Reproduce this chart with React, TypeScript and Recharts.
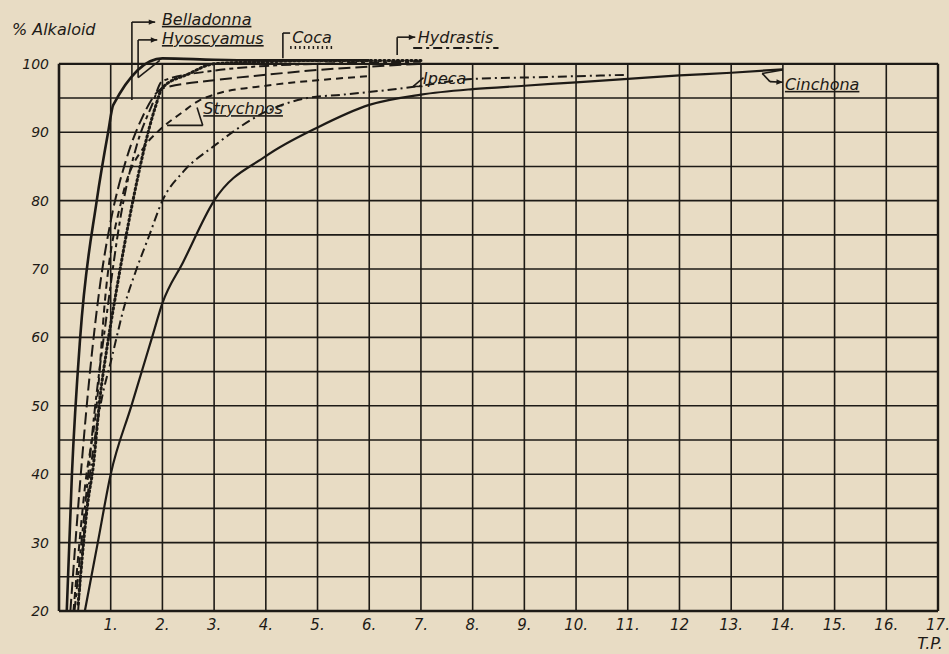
import { LineChart, Line, XAxis, YAxis, ReferenceLine, ReferenceDot } from "recharts";

// axis ticks and grid
const X_TICKS = [1, 2, 3, 4, 5, 6, 7, 8, 9, 10, 11, 12, 13, 14, 15, 16, 17];
const X_TICK_LABELS = ["1.", "2.", "3.", "4.", "5.", "6.", "7.", "8.", "9.", "10.", "11.", "12", "13.", "14.", "15.", "16.", "17."];
const Y_TICKS = [20, 30, 40, 50, 60, 70, 80, 90, 100];
const GRID_Y = [25, 30, 35, 40, 45, 50, 55, 60, 65, 70, 75, 80, 85, 90, 95];
const GRID_X = [1, 2, 3, 4, 5, 6, 7, 8, 9, 10, 11, 12, 13, 14, 15, 16];

// % alkaloid extracted vs T.P.
const BELLADONNA: [number, number][] = [
  [0.15, 20], [0.25, 40], [0.41, 60], [0.73, 80], [0.95, 90], [1.05, 94], [2, 100.8],
  [3, 100.6], [4, 100.5], [5, 100.5], [6, 100.5],
];
const HYOSCYAMUS: [number, number][] = [
  [0.22, 20], [0.4, 38], [0.6, 55], [0.8, 68], [1.0, 77], [1.3, 86], [1.6, 92], [2, 96.4],
  [3, 97.6], [4, 98.4], [5, 99.1], [6, 99.6], [7, 100],
];
const COCA: [number, number][] = [
  [0.37, 21], [0.56, 36], [0.66, 41], [0.79, 51], [0.93, 58.6], [1.08, 65.5], [1.43, 80],
  [1.86, 93.6], [2, 96.5], [2.5, 98.5], [3, 100], [4, 100.3], [5, 100.5], [6, 100.5], [7, 100.5],
];
const HYDRASTIS: [number, number][] = [
  [0.3, 20], [0.5, 35], [0.7, 50], [0.9, 62], [1.2, 78], [1.5, 88], [1.8, 94], [2, 97.5],
  [3, 99], [4, 99.7], [5, 100], [6, 100.2], [7, 100.3],
];
const STRYCHNOS: [number, number][] = [
  [0.28, 20], [0.5, 38], [0.74, 51], [0.89, 65.5], [1.22, 80.4], [1.66, 88], [1.9, 90],
  [2.4, 93], [2.7, 94.6], [3, 95.5], [4, 96.8], [5, 97.6], [6, 98.2],
];
const IPECA: [number, number][] = [
  [0.37, 20], [0.47, 30], [0.6, 40], [0.8, 50], [1.02, 57], [1.28, 65], [1.5, 70], [1.75, 75],
  [2, 80], [2.4, 84.2], [3, 88], [4, 93], [4.8, 95], [5.5, 95.5], [6.6, 96.4], [7, 96.8],
  [8, 97.8], [9, 98], [10, 98.2], [11, 98.4],
];
const CINCHONA: [number, number][] = [
  [0.5, 20], [0.75, 30], [1, 40], [1.4, 50], [1.8, 60], [2, 65], [2.4, 71], [3, 80],
  [4, 86.5], [5, 90.7], [6, 94], [7, 95.5], [8, 96.3], [9, 96.8], [10, 97.3], [11, 97.8],
  [12, 98.3], [13, 98.7], [14, 99.2],
];

// hand-lettered labels, anchored in data units
const LABELS = [
  { text: "% Alkaloid", x: -0.91, y: 104.2, underline: false },
  { text: "Belladonna", x: 1.99, y: 105.7, underline: true },
  { text: "Hyoscyamus", x: 1.99, y: 102.9, underline: true },
  { text: "Coca", x: 4.51, y: 103.0, underline: false },
  { text: "Hydrastis", x: 6.94, y: 103.0, underline: false },
  { text: "Strychnos", x: 2.79, y: 92.65, underline: true },
  { text: "Ipeca", x: 7.04, y: 97.1, underline: false },
  { text: "Cinchona", x: 14.04, y: 96.2, underline: true },
  { text: "T.P.", x: 16.6, y: 14.4, underline: false },
];

// leader lines from labels to curves; last segment gets an arrowhead when arrow=true
const LEADERS: { pts: [number, number][]; arrow: boolean }[] = [
  { pts: [[1.41, 94.7], [1.41, 106.1], [1.86, 106.1]], arrow: true },
  { pts: [[1.95, 100.5], [1.53, 98], [1.53, 103.5], [1.9, 103.5]], arrow: true },
  { pts: [[4.33, 100.8], [4.33, 104.5], [4.47, 104.5]], arrow: false },
  { pts: [[6.54, 101.3], [6.54, 103.9], [6.89, 103.9]], arrow: true },
  { pts: [[2.09, 91], [2.78, 91], [2.67, 93.6]], arrow: false },
  { pts: [[7.05, 98.0], [6.85, 96.7], [7.03, 96.7]], arrow: false },
  { pts: [[13.99, 99.1], [13.6, 98.6], [13.75, 97.4], [14.0, 97.3]], arrow: true },
];

// little line-style keys under Coca and Hydrastis
const KEYS = [
  { from: [4.47, 102.4], to: [5.3, 102.4], dash: "1.5 3", width: 3 },
  { from: [6.85, 102.3], to: [8.5, 102.3], dash: "9 4 3 4", width: 2 },
];

const INK = "#1d1a16";
const PAPER = "#e8dcc4";
const FONT = "'DejaVu Sans', sans-serif";

const toPts = (arr: [number, number][]) => arr.map(([x, y]) => ({ x, y }));

function ArrowLine(props: any) {
  const { x1, y1, x2, y2, arrow } = props;
  const a = Math.atan2(y2 - y1, x2 - x1);
  const L = 7;
  const p1 = `${x2 - L * Math.cos(a - 0.4)},${y2 - L * Math.sin(a - 0.4)}`;
  const p2 = `${x2 - L * Math.cos(a + 0.4)},${y2 - L * Math.sin(a + 0.4)}`;
  return (
    <g>
      <line x1={x1} y1={y1} x2={x2} y2={y2} stroke={INK} strokeWidth={1.6} />
      {arrow && <polygon points={`${x2},${y2} ${p1} ${p2}`} fill={INK} />}
    </g>
  );
}

export default function App() {
  const series = [
    { name: "Belladonna", data: BELLADONNA, dash: undefined, width: 2.6 },
    { name: "Hyoscyamus", data: HYOSCYAMUS, dash: "12 5", width: 2 },
    { name: "Coca", data: COCA, dash: "1.5 3", width: 3 },
    { name: "Hydrastis", data: HYDRASTIS, dash: "10 4 4 4", width: 2 },
    { name: "Strychnos", data: STRYCHNOS, dash: "7 5", width: 2 },
    { name: "Ipeca", data: IPECA, dash: "9 4 2 4", width: 2 },
    { name: "Cinchona", data: CINCHONA, dash: undefined, width: 2.2 },
  ];

  const tickStyle = { fill: INK, fontSize: 15, fontStyle: "italic", fontFamily: FONT };

  return (
    <div style={{ position: "absolute", left: 0, top: 0, width: 949, height: 654, background: PAPER }}>
      <LineChart width={949} height={654} margin={{ top: 57, right: 11, bottom: 0, left: 0 }}>
        <XAxis
          dataKey="x"
          type="number"
          domain={[0, 17]}
          ticks={X_TICKS}
          interval={0}
          tickFormatter={(v: number) => X_TICK_LABELS[v - 1] ?? ""}
          axisLine={false}
          tickLine={false}
          height={43}
          tick={tickStyle}
        />
        <YAxis
          type="number"
          domain={[20, 101]}
          ticks={Y_TICKS}
          interval={0}
          axisLine={false}
          tickLine={false}
          tickMargin={4}
          width={59}
          tick={{ ...tickStyle, fontSize: 14 }}
        />

        {GRID_Y.map((v) => (
          <ReferenceLine key={"gy" + v} y={v} stroke={INK} strokeWidth={1.6} />
        ))}
        {GRID_X.map((v) => (
          <ReferenceLine
            key={"gx" + v}
            segment={[{ x: v, y: 20 }, { x: v, y: 100 }]}
            stroke={INK}
            strokeWidth={1.6}
          />
        ))}
        <ReferenceLine segment={[{ x: 0, y: 100 }, { x: 17, y: 100 }]} stroke={INK} strokeWidth={2.4} />
        <ReferenceLine segment={[{ x: 0, y: 20 }, { x: 17, y: 20 }]} stroke={INK} strokeWidth={2.6} />
        <ReferenceLine segment={[{ x: 0, y: 20 }, { x: 0, y: 100 }]} stroke={INK} strokeWidth={2.6} />
        <ReferenceLine segment={[{ x: 17, y: 20 }, { x: 17, y: 100 }]} stroke={INK} strokeWidth={2.4} />

        {series.map((s) => (
          <Line
            key={s.name}
            data={toPts(s.data)}
            dataKey="y"
            type="monotone"
            stroke={INK}
            strokeWidth={s.width}
            strokeDasharray={s.dash}
            strokeLinecap={s.name === "Coca" ? "round" : "butt"}
            dot={false}
            isAnimationActive={false}
          />
        ))}

        {LEADERS.flatMap((l, i) =>
          l.pts.slice(1).map((p, j) => (
            <ReferenceLine
              key={`ld${i}-${j}`}
              ifOverflow="visible"
              segment={[{ x: l.pts[j][0], y: l.pts[j][1] }, { x: p[0], y: p[1] }]}
              shape={(props: any) => (
                <ArrowLine {...props} arrow={l.arrow && j === l.pts.length - 2} />
              )}
            />
          )),
        )}

        {KEYS.map((k, i) => (
          <ReferenceLine
            key={"key" + i}
            ifOverflow="visible"
            segment={[{ x: k.from[0], y: k.from[1] }, { x: k.to[0], y: k.to[1] }]}
            stroke={INK}
            strokeWidth={k.width}
            strokeDasharray={k.dash}
          />
        ))}

        {LABELS.map((lb) => (
          <ReferenceDot
            key={lb.text}
            x={lb.x}
            y={lb.y}
            r={0}
            ifOverflow="visible"
            shape={(p: any) => (
              <text
                x={p.cx}
                y={p.cy}
                fill={INK}
                fontSize={16}
                fontStyle="italic"
                fontFamily={FONT}
                textDecoration={lb.underline ? "underline" : undefined}
              >
                {lb.text}
              </text>
            )}
          />
        ))}
      </LineChart>
    </div>
  );
}
